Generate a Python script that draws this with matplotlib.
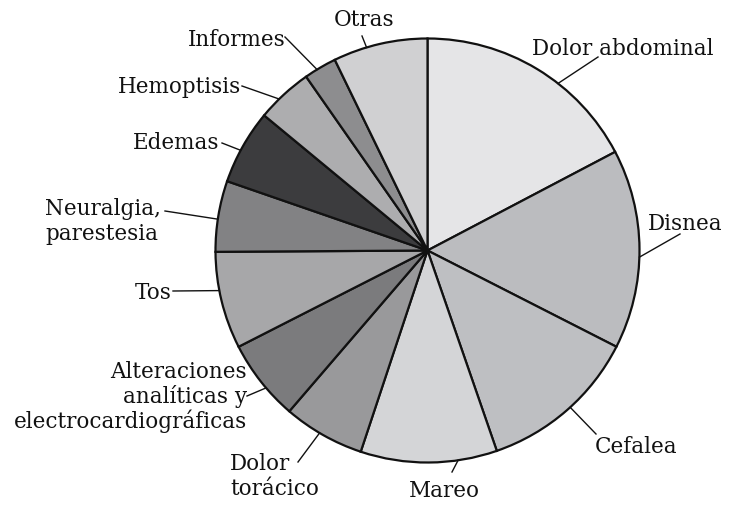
import matplotlib
matplotlib.use("Agg")
import matplotlib.pyplot as plt
import numpy as np

# ---- data (percent of cases, read clockwise from 12 o'clock) ----
categories = ["Dolor abdominal", "Disnea", "Cefalea", "Mareo", "Dolor\ntorácico",
              "Alteraciones\nanalíticas y\nelectrocardiográficas", "Tos",
              "Neuralgia,\nparestesia", "Edemas", "Hemoptisis", "Informes", "Otras"]
values = [17.3, 15.2, 12.2, 10.4, 6.2, 6.2, 7.4, 5.4, 5.7, 4.3, 2.5, 7.2]
colors = ["#e5e5e7", "#bbbcbf", "#bebfc2", "#d4d5d7", "#99999b", "#7b7b7d",
          "#a7a7a9", "#828284", "#3c3c3e", "#adadaf", "#8d8d8f", "#d0d0d2"]

# ---- layout (pixel coordinates of the 730x506 canvas) ----
W, H = 730, 506
cx, cy, R = 427.5, 251.5, 212
# (edge angle of leader line in degrees, leader outer end x,y, text x,y of first baseline, ha)
layout = [
    (52.0, (598, 58), (532, 55), "left"),
    (-1.8, (680, 235), (648, 230), "left"),
    (-47.7, (596, 435), (595, 453), "left"),
    (-81.7, (452, 473), (444, 497), "center"),
    (-120.6, (298, 463), (230, 470), "left"),
    (-139.6, (247, 397), (247, 378), "right"),
    (-169.1, (173, 292), (172, 299), "right"),
    (171.5, (165, 212), (45, 215), "left"),
    (151.8, (222, 144), (219, 149), "right"),
    (134.4, (242, 87), (241, 93), "right"),
    (121.4, (285, 38), (286, 46), "right"),
    (106.7, (362, 37), (364, 26), "center"),
]
pitch = 25
fs = 15.5
family = ["DejaVu Serif"]

fig = plt.figure(figsize=(W / 100, H / 100), dpi=100)
ax = fig.add_axes([0, 0, 1, 1])
ax.pie(values, colors=colors, startangle=90, counterclock=False,
       center=(cx, H - cy), radius=R,
       wedgeprops=dict(edgecolor="#111111", linewidth=1.6))
ax.set_xlim(0, W)
ax.set_ylim(0, H)
ax.set_aspect("equal")
ax.axis("off")

for lab, (ang, (ox, oy), (tx, ty), ha) in zip(categories, layout):
    a = np.deg2rad(ang)
    ex, ey = cx + R * np.cos(a), cy - R * np.sin(a)
    ax.plot([ox, ex], [H - oy, H - ey], color="#111111", lw=1.0)
    for i, line in enumerate(lab.split("\n")):
        ax.text(tx, H - (ty + i * pitch), line, ha=ha, va="baseline",
                fontsize=fs, family=family, color="#111111")

fig.savefig("out.png", dpi=100)
